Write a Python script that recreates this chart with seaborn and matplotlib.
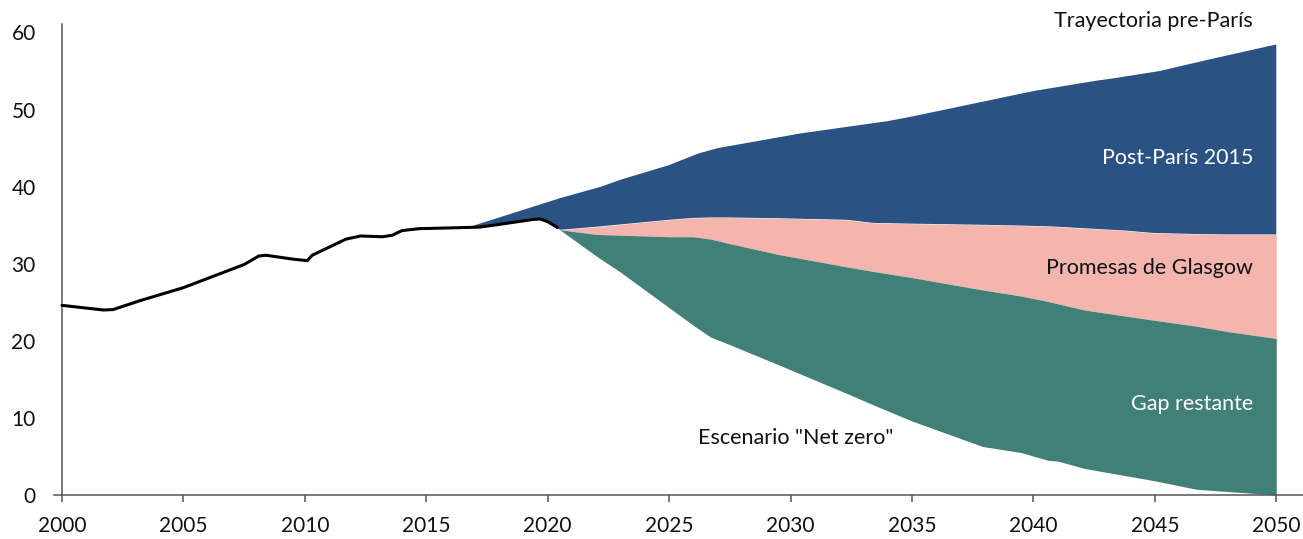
import numpy as np
import matplotlib
matplotlib.use("Agg")
import matplotlib.pyplot as plt
import seaborn as sns

# Historical emissions (black line)
hist_years = [2000, 2001.7, 2002.1, 2003.2, 2005, 2007.5, 2008.1, 2008.4, 2009.5,
              2010.1, 2010.3, 2011.7, 2012.3, 2013.2, 2013.6, 2014.0, 2014.7,
              2016.0, 2017.2, 2018.0, 2019.4, 2019.7, 2020.0, 2020.4]
hist_vals = [24.6, 24.0, 24.05, 25.2, 26.9, 29.9, 31.0, 31.1, 30.6,
             30.4, 31.1, 33.2, 33.6, 33.5, 33.7, 34.3, 34.55,
             34.65, 34.75, 35.1, 35.75, 35.8, 35.45, 34.7]

# Pre-Paris trajectory (top of blue area)
pre_years = [2016.7, 2020.5, 2022.2, 2023, 2025, 2026.2, 2027, 2030.4, 2034,
             2035, 2040, 2042.5, 2043.4, 2045.2, 2047.1, 2050]
pre_vals = [34.7, 38.5, 40.0, 40.9, 42.8, 44.3, 45.0, 46.9, 48.5,
            49.1, 52.4, 53.7, 54.1, 55.0, 56.4, 58.45]

# Projection scenarios
proj_years = [2020.5, 2022, 2023, 2024, 2025, 2026, 2026.7, 2027.5, 2029.5,
              2032.3, 2033.4, 2035, 2037.9, 2039.5, 2040.6, 2041, 2042.1,
              2043.8, 2044.9, 2046.7, 2048, 2050]
post_paris = [34.4, 34.8, 35.1, 35.4, 35.7, 35.95, 36.0, 36.0, 35.9,
              35.7, 35.3, 35.2, 35.05, 34.95, 34.85, 34.8, 34.6,
              34.3, 34.0, 33.85, 33.8, 33.8]
glasgow = [34.4, 33.8, 33.7, 33.6, 33.5, 33.5, 33.2, 32.6, 31.2,
           29.6, 29.0, 28.2, 26.6, 25.8, 25.1, 24.8, 24.0,
           23.2, 22.7, 21.9, 21.2, 20.3]
net_zero = [34.4, 31.0, 28.9, 26.6, 24.3, 22.0, 20.5, 19.5, 16.9,
            13.2, 11.7, 9.6, 6.3, 5.5, 4.5, 4.4, 3.45,
            2.5, 1.9, 0.75, 0.45, 0.0]

x_ticks = [2000, 2005, 2010, 2015, 2020, 2025, 2030, 2035, 2040, 2045, 2050]
y_ticks = [0, 10, 20, 30, 40, 50, 60]

BLUE = "#2A5383"
PINK = "#F4B5AE"
GREEN = "#418077"
AXIS = "#555555"

sns.set_style("white")
plt.rcParams["font.family"] = ["Lato", "DejaVu Sans"]

fig = plt.figure(figsize=(13.03, 5.39), dpi=100)
ax = fig.add_axes([54 / 1303, 1 - 495 / 539, 1 - 54 / 1303, (495 - 24) / 539])

# blue area: pre-Paris top, bottom follows post-Paris then the historical tail
tail = [i for i, yr in enumerate(hist_years) if yr > pre_years[0]]
poly_x = np.r_[pre_years, proj_years[::-1], [hist_years[i] for i in tail][::-1]]
poly_y = np.r_[pre_vals, post_paris[::-1], [hist_vals[i] for i in tail][::-1]]
ax.fill(poly_x, poly_y, color=BLUE, lw=0, zorder=1)
ax.fill_between(proj_years, post_paris, glasgow, color=PINK, lw=0, zorder=1)
ax.fill_between(proj_years, glasgow, net_zero, color=GREEN, lw=0, zorder=1)

sns.lineplot(x=hist_years, y=hist_vals, color="black", lw=2.2, ax=ax, zorder=3)
ax.lines[-1].set_solid_joinstyle("round")

ax.set_xlim(1999.67, 2051.1)
ax.set_ylim(0, 61.1)
ax.set_xticks(x_ticks)
ax.set_yticks(y_ticks)
ax.set_xlabel("")
ax.set_ylabel("")

for s in ["top", "right"]:
    ax.spines[s].set_visible(False)
ax.spines["left"].set_position(("data", 2000))
for s in ["left", "bottom"]:
    ax.spines[s].set_color(AXIS)
    ax.spines[s].set_linewidth(1.1)

ax.tick_params(axis="x", direction="out", length=5, width=1.1, color=AXIS,
               pad=10, labelsize=15, labelcolor="#111111", bottom=True)
ax.tick_params(axis="y", length=0, pad=19, labelsize=15, labelcolor="#111111", left=True)

# annotations
lab_x = 2049.05
fs = 15.5
ax.text(lab_x, 61.5, "Trayectoria pre-París", ha="right", va="center",
        fontsize=fs, color="#111111", clip_on=False)
ax.text(lab_x, 43.7, "Post-París 2015", ha="right", va="center",
        fontsize=fs, color="white")
ax.text(lab_x, 29.4, "Promesas de Glasgow", ha="right", va="center",
        fontsize=fs, color="#111111")
ax.text(lab_x, 11.8, "Gap restante", ha="right", va="center",
        fontsize=fs, color="white")
ax.text(2026.2, 7.4, 'Escenario "Net zero"', ha="left", va="center",
        fontsize=fs, color="#111111")

fig.savefig("out.png", dpi=100)
plt.close(fig)
